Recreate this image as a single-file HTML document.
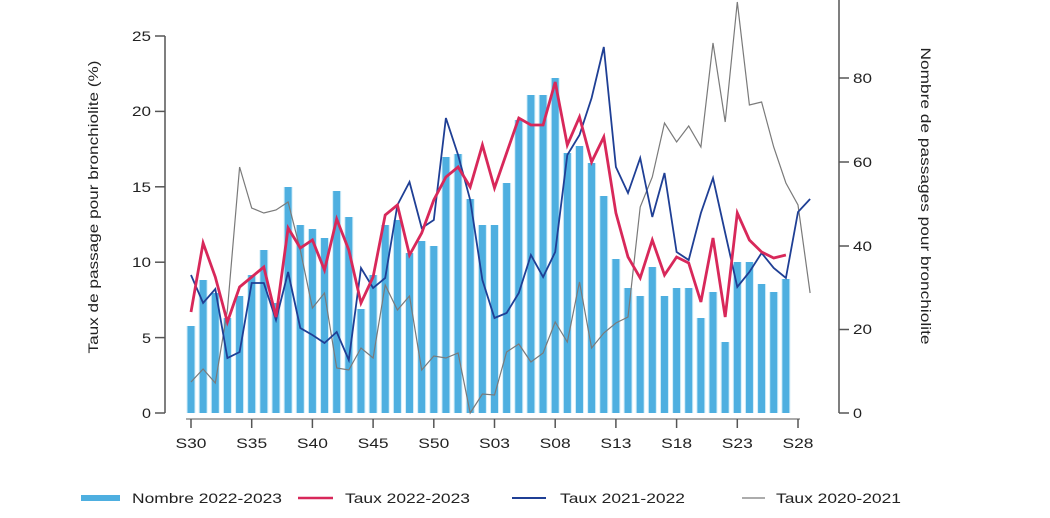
<!DOCTYPE html>
<html><head><meta charset="utf-8"><style>
html,body{margin:0;padding:0;background:#fff;width:1050px;height:518px;overflow:hidden}
text{font-family:"Liberation Sans",sans-serif;fill:#222}
</style></head><body>
<svg id="s" width="1050" height="518" viewBox="0 0 1050 518" xmlns="http://www.w3.org/2000/svg">
<g id="bars"></g>
<polyline id="grey" fill="none" stroke="#7a7a7a" stroke-width="1.2"/>
<polyline id="blue" fill="none" stroke="#1f3f95" stroke-width="1.8"/>
<polyline id="red" fill="none" stroke="#d8285a" stroke-width="2.8"/>
<g stroke="#555" stroke-width="1.5">
<line x1="165" y1="36" x2="165" y2="413"/>
<line x1="155" y1="36" x2="165" y2="36"/><line x1="155" y1="111.4" x2="165" y2="111.4"/>
<line x1="155" y1="186.8" x2="165" y2="186.8"/><line x1="155" y1="262.2" x2="165" y2="262.2"/>
<line x1="155" y1="337.6" x2="165" y2="337.6"/><line x1="155" y1="413" x2="165" y2="413"/>
<line x1="839" y1="0" x2="839" y2="413"/>
<line x1="839" y1="78" x2="849" y2="78"/><line x1="839" y1="162" x2="849" y2="162"/>
<line x1="839" y1="246" x2="849" y2="246"/><line x1="839" y1="329.5" x2="849" y2="329.5"/>
<line x1="839" y1="413" x2="849" y2="413"/>
</g>
<g font-size="14" text-anchor="end">
<text x="151" y="41" textLength="19" lengthAdjust="spacingAndGlyphs">25</text><text x="151" y="116" textLength="19" lengthAdjust="spacingAndGlyphs">20</text><text x="151" y="192" textLength="19" lengthAdjust="spacingAndGlyphs">15</text>
<text x="151" y="267" textLength="19" lengthAdjust="spacingAndGlyphs">10</text><text x="151" y="343" textLength="9" lengthAdjust="spacingAndGlyphs">5</text><text x="151" y="418" textLength="9" lengthAdjust="spacingAndGlyphs">0</text>
</g>
<g font-size="14">
<text x="853" y="83" textLength="19" lengthAdjust="spacingAndGlyphs">80</text><text x="853" y="167" textLength="19" lengthAdjust="spacingAndGlyphs">60</text><text x="853" y="251" textLength="19" lengthAdjust="spacingAndGlyphs">40</text>
<text x="853" y="334" textLength="19" lengthAdjust="spacingAndGlyphs">20</text><text x="853" y="418" textLength="9" lengthAdjust="spacingAndGlyphs">0</text>
</g>
<text font-size="14" x="0" y="0" text-anchor="middle" textLength="293" lengthAdjust="spacingAndGlyphs" transform="translate(98,207) rotate(-90)">Taux de passage pour bronchiolite (%)</text>
<text font-size="14" x="0" y="0" text-anchor="middle" textLength="297" lengthAdjust="spacingAndGlyphs" transform="translate(921,196) rotate(90)">Nombre de passages pour bronchiolite</text>
<g id="xax"></g>
<rect x="81" y="495" width="39" height="6" fill="#4eafe0"/>
<text x="132" y="503" font-size="14" textLength="150" lengthAdjust="spacingAndGlyphs">Nombre 2022-2023</text>
<line x1="298" y1="498" x2="333" y2="498" stroke="#d8285a" stroke-width="2.5"/>
<text x="345" y="503" font-size="14" textLength="125" lengthAdjust="spacingAndGlyphs">Taux 2022-2023</text>
<line x1="512" y1="498" x2="546" y2="498" stroke="#1f3f95" stroke-width="2"/>
<text x="560" y="503" font-size="14" textLength="125" lengthAdjust="spacingAndGlyphs">Taux 2021-2022</text>
<line x1="742" y1="498" x2="765" y2="498" stroke="#7a7a7a" stroke-width="1.2"/>
<text x="776" y="503" font-size="14" textLength="125" lengthAdjust="spacingAndGlyphs">Taux 2020-2021</text>
</svg>
<script>
var X=function(i){return 191+12.14*i};
var bars=[326,280,293,318,296,275,250,303,187,225,229,238,191,217,309,275,225,220,253,241,246,157,154,199,225,225,183,120,95,95,78,153,146,163,196,259,288,296,267,296,288,288,318,292,342,262,262,284,292,279];
var red=[312,243,277,322,287,277,267,317,228,248,240,270,219,250,303,277,215,205,255,233,200,177,167,187,145,188,153,118,125,125,82,145,117,162,137,213,257,278,240,275,257,263,302,238,317,213,240,252,258,255];
var blue=[275,303,289,358,352,283,283,320,272,328,335,343,332,360,268,288,278,205,182,228,220,118,155,200,280,318,313,293,255,277,252,155,135,98,47,167,193,158,217,173,252,260,213,178,233,287,272,253,268,278,212,199];
var grey=[382,369,383,310,167,208,213,210,202,250,308,293,368,370,348,358,285,310,296,370,356,358,353,413,394,395,352,344,362,353,322,342,282,348,333,323,317,207,177,123,142,126,147,43,122,2,105,102,147,183,205,293];
var s="";
bars.forEach(function(y,i){var x=X(i);
s+='<rect x="'+(x-4.5)+'" y="'+y+'" width="9" height="'+(413-y)+'" fill="#d3eef9"/>';
s+='<rect x="'+(x-3.5)+'" y="'+y+'" width="7" height="'+(413-y)+'" fill="#4eafe0"/>';});
document.getElementById('bars').innerHTML=s;
function pts(a){return a.map(function(y,i){return X(i).toFixed(1)+','+y}).join(' ')}
document.getElementById('red').setAttribute('points',pts(red));
document.getElementById('blue').setAttribute('points',pts(blue));
document.getElementById('grey').setAttribute('points',pts(grey));
var labs=['S30','S35','S40','S45','S50','S03','S08','S13','S18','S23','S28'],t='<line x1="186" y1="419" x2="800" y2="419" stroke="#aaa" stroke-width="2"/>';
labs.forEach(function(l,k){var x=X(k*5);
t+='<line x1="'+x+'" y1="419" x2="'+x+'" y2="428" stroke="#555" stroke-width="1.5"/>';
t+='<text x="'+x+'" y="448" font-size="14" text-anchor="middle" textLength="31" lengthAdjust="spacingAndGlyphs">'+l+'</text>';});
document.getElementById('xax').innerHTML=t;
</script>
</body></html>
